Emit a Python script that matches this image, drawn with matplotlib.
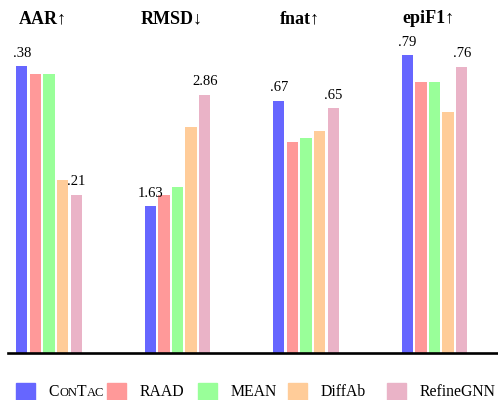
import matplotlib
matplotlib.use("Agg")
import matplotlib.pyplot as plt
from matplotlib.patches import Rectangle

plt.rcParams["font.family"] = ["Liberation Serif", "DejaVu Serif"]

# Data
methods = ["ConTac", "RAAD", "MEAN", "DiffAb", "RefineGNN"]
colors = ["#6666FF", "#FF9999", "#99FF99", "#FFCC99", "#EAB3C7"]
metrics = ["AAR↑", "RMSD↓", "fnat↑", "epiF1↑"]

aar = [0.38, 0.37, 0.37, 0.23, 0.21]
rmsd = [1.63, 1.75, 1.84, 2.50, 2.86]
fnat = [0.67, 0.56, 0.57, 0.59, 0.65]
epif1 = [0.79, 0.72, 0.72, 0.64, 0.76]

# labels shown on first (ConTac) and last (RefineGNN) bar
first_labels = [".38", "1.63", ".67", ".79"]
last_labels = [".21", "2.86", ".65", ".76"]

values = [aar, rmsd, fnat, epif1]
ytops = [0.415, 3.465, 0.831, 0.831]   # each metric has its own scale

W, H = 498, 400
fig = plt.figure(figsize=(W / 100, H / 100), dpi=100)

rect = [8 / W, (H - 353) / H, 490 / W, 313 / H]
xlim = (-0.319, 3.494)
step = 0.106
width = 0.088

ax0 = fig.add_axes(rect)
ax0.set_xlim(*xlim)
ax0.set_ylim(0, 1)
for s in ["top", "left", "right"]:
    ax0.spines[s].set_visible(False)
ax0.spines["bottom"].set_linewidth(1.9)
ax0.set_xticks([])
ax0.set_yticks([])
ax0.set_zorder(5)
ax0.patch.set_visible(False)

for g, vals in enumerate(values):
    ax = fig.add_axes(rect, frameon=False)
    ax.set_xlim(*xlim)
    ax.set_ylim(0, ytops[g])
    ax.axis("off")
    xs = [g + (k - 2) * step for k in range(len(vals))]
    ax.bar(xs, vals, width=width, color=colors)
    for k, lab in [(0, first_labels[g]), (len(vals) - 1, last_labels[g])]:
        ax.annotate(lab, (xs[k], vals[k]), xytext=(0, 4.5), textcoords="offset points",
                    ha="center", va="bottom", fontsize=10.5)
    ax0.annotate(metrics[g], (g - 0.047, 1 - 18.5 / H), xycoords=("data", "figure fraction"),
                 ha="center", va="center", fontsize=13, fontweight="bold")

# legend drawn by hand
patch_x = [16, 107, 198, 288, 387]
ly = 391.5
for i, name in enumerate(methods):
    fig.patches.append(Rectangle((patch_x[i] / W, (H - 400) / H), 19 / W, 16.7 / H,
                                 transform=fig.transFigure, color=colors[i]))
    tx = (patch_x[i] + 32.5) / W
    if name == "ConTac":
        t = fig.text(tx, 1 - ly / H, "C", fontsize=11.3, va="center", ha="left")
        parts = [("ON", 9), ("T", 11.3), ("AC", 9)]
        prev = t
        for s, fs in parts:
            prev = ax0.annotate(s, xy=(1, 0), xycoords=prev, fontsize=fs,
                                va="bottom", ha="left", annotation_clip=False)
    else:
        fig.text(tx, 1 - ly / H, name, fontsize=11.3, va="center", ha="left")

fig.savefig("out.png", dpi=100)
